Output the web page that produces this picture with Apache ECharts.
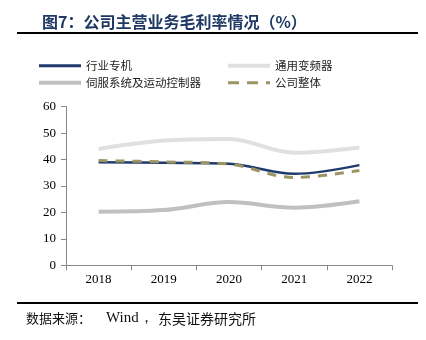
<!DOCTYPE html>
<html><head><meta charset="utf-8">
<script src="https://cdn.jsdelivr.net/npm/echarts@6/dist/echarts.min.js"></script>
<style>html,body{margin:0;padding:0;background:#fff}#c{width:426px;height:340px}</style>
</head><body><div id="c"></div>
<script>
const categories = ['2018','2019','2020','2021','2022'];
const yTicks = [0,10,20,30,40,50,60];
const seriesNames = ['行业专机','通用变频器','伺服系统及运动控制器','公司整体'];
const hangye = [39.0, 38.8, 38.4, 34.6, 37.9];
const bianpin = [44.0, 47.2, 47.8, 42.6, 44.6];
const sifu = [20.3, 20.9, 23.9, 21.8, 24.2];
const zhengti = [39.6, 39.1, 38.3, 33.2, 35.9];

const chart = echarts.init(document.getElementById('c'), null, {renderer:'canvas'});
const serif = '"Liberation Serif","Times New Roman",serif';
const cjk = '"Noto Sans CJK SC",sans-serif';
function leg(name, left, top, icon, h){
  return {show:true, data:[{name:name, icon:icon}], left:left, top:top, itemWidth:42, itemHeight:h, itemGap:0,
    padding:0, selectedMode:false,
    textStyle:{fontFamily:cjk, fontSize:11.5, color:'#222'}};
}
const solid = 'path://M0,0h42v3h-42z';
const dashed = 'path://M0,0h11v3h-11z M19,0h11v3h-11z M38,0h4v3h-4z';
chart.setOption({
  animation:false,
  backgroundColor:'#fff',
  title:{text:'图7：公司主营业务毛利率情况（%）', left:37, top:9,
    textStyle:{fontFamily:cjk, fontSize:16, fontWeight:'bold', color:'#1f3864'}},
  graphic:[
    {type:'line', shape:{x1:17,y1:33,x2:418,y2:33}, style:{stroke:'#000', lineWidth:2}},
    {type:'line', shape:{x1:17,y1:303,x2:418,y2:303}, style:{stroke:'#000', lineWidth:2}},
    {type:'text', left:26, top:312, style:{text:'数据来源：', fontFamily:cjk, fontSize:13, fill:'#111'}},
    {type:'text', left:106, top:311, style:{text:'Wind，', fontFamily:serif, fontSize:15, fill:'#111'}},
    {type:'text', left:158, top:312, style:{text:'东吴证券研究所', fontFamily:cjk, fontSize:14, fill:'#111'}}
  ],
  legend:[
    leg(seriesNames[0],39,60,solid,3),
    leg(seriesNames[1],228,60,'path://M0,0h42v4h-42z',4),
    leg(seriesNames[2],39,77,'path://M0,0h42v4h-42z',4),
    leg(seriesNames[3],228,77,dashed,3)],
  grid:{left:66, right:34, top:106.7, bottom:74.7},
  xAxis:{type:'category', data:categories, boundaryGap:true,
    axisLine:{lineStyle:{color:'#888', width:1}},
    axisTick:{show:true, length:5, lineStyle:{color:'#888'}},
    axisLabel:{fontFamily:serif, fontSize:13, color:'#000', margin:8}},
  yAxis:{type:'value', min:yTicks[0], max:yTicks[yTicks.length-1], interval:10,
    splitLine:{show:false},
    axisLine:{show:true, lineStyle:{color:'#888', width:1}},
    axisTick:{show:true, length:5, lineStyle:{color:'#888'}},
    axisLabel:{fontFamily:serif, fontSize:13, color:'#000', margin:10}},
  series:[
    {name:seriesNames[1], type:'line', data:bianpin, smooth:0.35, symbol:'none', z:1,
      lineStyle:{color:'#e0e0e0', width:4}, itemStyle:{color:'#e0e0e0'}},
    {name:seriesNames[2], type:'line', data:sifu, smooth:0.35, symbol:'none', z:2,
      lineStyle:{color:'#c0c0c0', width:4}, itemStyle:{color:'#c0c0c0'}},
    {name:seriesNames[0], type:'line', data:hangye, smooth:0.35, symbol:'none', z:3,
      lineStyle:{color:'#1f3b6e', width:2.5}, itemStyle:{color:'#1f3b6e'}},
    {name:seriesNames[3], type:'line', data:zhengti, smooth:0.35, symbol:'none', z:4,
      lineStyle:{color:'#9c9462', width:3, type:[9,8]}, itemStyle:{color:'#9c9462'}}
  ]
});
</script></body></html>
